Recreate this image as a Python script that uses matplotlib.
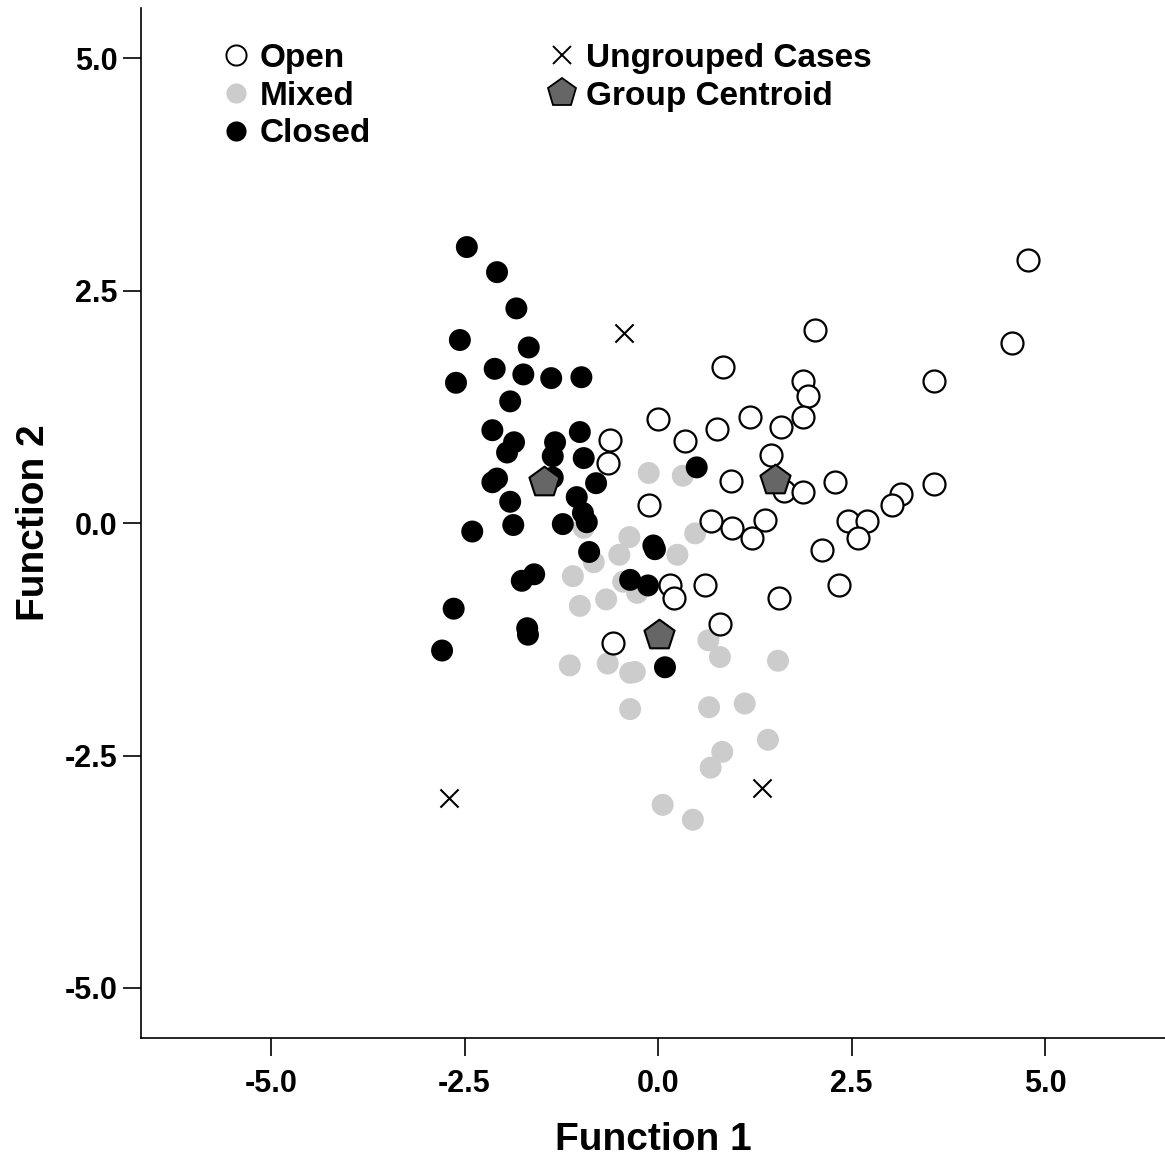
import matplotlib
matplotlib.use("Agg")
import matplotlib.pyplot as plt
from matplotlib.lines import Line2D

plt.rcParams['font.family'] = ['Liberation Sans', 'DejaVu Sans']
plt.rcParams['font.weight'] = 'bold'

open_x = [4.78, 4.57, 2.03, 0.84, 1.87, 1.94, 3.57, 1.19, 0.76, 1.59, 1.87, 0.35, 0.00,
          -0.62, -0.65, 1.46, 0.94, 1.63, 1.87, 2.29, 3.14, 3.02, 3.57, 0.68, 0.96, 1.38,
          1.21, 2.45, 2.70, 2.58, 2.12, -0.12, 0.16, 0.21, 0.61, 1.56, 2.34, 0.80, -0.58]
open_y = [2.83, 1.94, 2.08, 1.68, 1.53, 1.37, 1.53, 1.14, 1.01, 1.03, 1.14, 0.88, 1.12,
          0.89, 0.65, 0.73, 0.45, 0.35, 0.34, 0.44, 0.31, 0.20, 0.42, 0.02, -0.05, 0.03,
          -0.16, 0.02, 0.02, -0.16, -0.29, 0.19, -0.67, -0.80, -0.66, -0.81, -0.67, -1.09, -1.29]

mixed_x = [-0.12, 0.32, 0.48, -0.37, -0.50, 0.25, -0.83, -1.10, -0.45, -0.27, -0.67, -1.01,
           -0.96, -1.14, -0.65, -0.30, -0.36, 0.65, 0.80, 1.55, -0.36, 0.66, 1.12, 1.42,
           0.83, 0.68, 0.06, 0.45]
mixed_y = [0.54, 0.51, -0.11, -0.15, -0.34, -0.34, -0.42, -0.57, -0.63, -0.75, -0.82, -0.89,
           -0.05, -1.53, -1.51, -1.60, -1.61, -1.26, -1.44, -1.48, -2.00, -1.98, -1.94, -2.33,
           -2.46, -2.63, -3.03, -3.19]

closed_x = [-2.47, -2.08, -1.83, -2.56, -1.67, -2.11, -1.74, -1.38, -0.99, -2.61, -1.91,
            -2.14, -1.86, -1.95, -1.33, -1.36, -1.01, -0.96, -2.14, -2.08, -1.36, -0.80,
            -1.91, -1.05, -0.97, -0.92, -1.23, -1.87, -2.40, -0.89, -0.06, -0.04, 0.50,
            -1.60, -1.76, -0.36, -0.13, -2.64, -1.69, -1.68, -2.79, 0.09]
closed_y = [2.97, 2.70, 2.31, 1.97, 1.89, 1.66, 1.60, 1.56, 1.57, 1.51, 1.31,
            1.00, 0.87, 0.76, 0.87, 0.72, 0.98, 0.70, 0.44, 0.48, 0.49, 0.43,
            0.23, 0.28, 0.11, 0.01, -0.01, -0.02, -0.09, -0.31, -0.24, -0.28, 0.60,
            -0.55, -0.62, -0.61, -0.67, -0.92, -1.13, -1.20, -1.37, -1.55]

ungrouped_x = [-0.44, -2.70, 1.34]
ungrouped_y = [2.05, -2.96, -2.85]

centroid_x = [1.51, 0.01, -1.47]
centroid_y = [0.46, -1.20, 0.44]

ticks = [-5.0, -2.5, 0.0, 2.5, 5.0]
tick_labels = ['-5.0', '-2.5', '0.0', '2.5', '5.0']

fig = plt.figure(figsize=(11.65, 11.6), dpi=100)
ax = fig.add_axes([0.121, 0.105, 0.879, 0.888])

S = 250
ax.scatter(mixed_x, mixed_y, s=S, c='#cccccc', edgecolors='none', zorder=2)
ax.scatter(open_x, open_y, s=S, facecolors='white', edgecolors='black', linewidths=1.6, zorder=3)
ax.scatter(closed_x, closed_y, s=S, c='black', edgecolors='none', zorder=4)
ax.scatter(ungrouped_x, ungrouped_y, s=170, marker='x', c='black', linewidths=1.5, zorder=5)
ax.scatter(centroid_x, centroid_y, s=520, marker='p', c='#666666', edgecolors='black',
           linewidths=1.5, zorder=6)

ax.set_xlim(-6.68, 6.55)
ax.set_ylim(-5.54, 5.54)
ax.set_xticks(ticks)
ax.set_xticklabels(tick_labels)
ax.set_yticks(ticks)
ax.set_yticklabels(tick_labels)
ax.tick_params(direction='out', length=13, width=1.2, labelsize=22, pad=4)
ax.tick_params(axis='x', pad=9.5)
for lab in ax.get_xticklabels() + ax.get_yticklabels():
    lab.set_fontweight('bold')
ax.spines['top'].set_visible(False)
ax.spines['right'].set_visible(False)
ax.spines['left'].set_linewidth(1.2)
ax.spines['bottom'].set_linewidth(1.2)

ax.set_xlabel('Function 1', fontsize=28, fontweight='bold', labelpad=16)
ax.set_ylabel('Function 2', fontsize=28, fontweight='bold', labelpad=9)

handles = [
    Line2D([], [], ls='none', marker='o', ms=14.5, mfc='white', mec='black', mew=1.4),
    Line2D([], [], ls='none', marker='o', ms=14.5, mfc='#cccccc', mec='none'),
    Line2D([], [], ls='none', marker='o', ms=14.5, mfc='black', mec='none'),
    Line2D([], [], ls='none', marker='x', ms=13, mec='black', mew=1.4),
    Line2D([], [], ls='none', marker='p', ms=21, mfc='#666666', mec='black', mew=1.3),
]
labels = ['Open', 'Mixed', 'Closed', 'Ungrouped Cases', 'Group Centroid']
leg = ax.legend(handles, labels, ncol=2, loc='upper left',
                bbox_to_anchor=(226 / 1165, 1 - 43 / 1160), bbox_transform=fig.transFigure,
                frameon=False, prop={'size': 24, 'weight': 'bold'}, handlelength=0.6,
                handletextpad=0.4, columnspacing=5.45, labelspacing=0.2,
                borderpad=0, borderaxespad=0)

fig.savefig('out.png', dpi=100)
